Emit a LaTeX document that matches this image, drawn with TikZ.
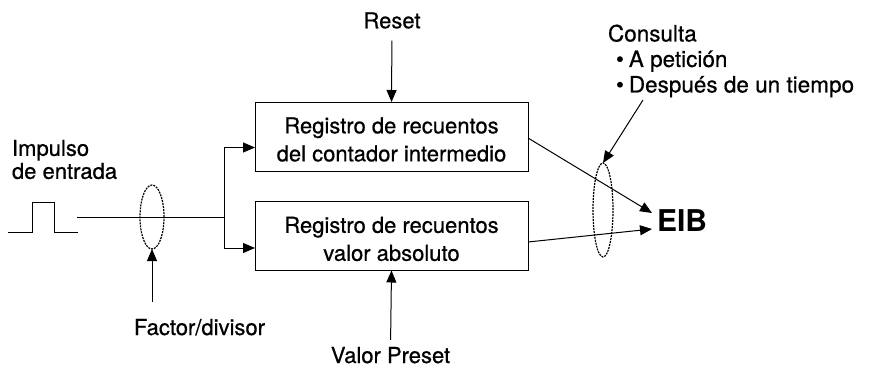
\documentclass[tikz,border=0pt]{standalone}
\usepackage{fontspec}
\setmainfont[FakeBold=0.6]{TeX Gyre Heros}
\newfontfamily\eibfont{TeX Gyre Heros}
\usetikzlibrary{arrows.meta,shapes.geometric}
\begin{document}
\begin{tikzpicture}[x=1pt,y=-1pt,
  every node/.style={font=\fontsize{22}{28}\selectfont, inner sep=0pt, outer sep=0pt},
  regbox/.style={draw, line width=1pt, minimum width=273pt, minimum height=69pt, align=center},
  lbl/.style={align=left},
  ring/.style={draw, ellipse, dash pattern=on 2pt off 1pt, line width=1.2pt},
  arr/.style={-{Triangle[length=12pt,width=10pt]}, line width=1pt},
  ln/.style={line width=1pt}]
\useasboundingbox (0,0) rectangle (885,369);
% boxes
\node[regbox] (r1) at (391.5,136.5) {\rule{0pt}{22pt}Registro de recuentos\\del contador intermedio};
\node[regbox] (r2) at (391.5,236) {\rule{0pt}{22pt}Registro de recuentos\\valor absoluto};
% labels
\node[anchor=base] (reset) at (392,28.3) {Reset};
\node[anchor=base] (vp) at (390.5,363) {Valor Preset};
\node[anchor=base] (fd) at (199.5,335) {Factor/divisor};
\node[lbl, anchor=west, font=\fontsize{22}{23}\selectfont] (imp) at (12,159.5) {Impulso\\de entrada};
\node[lbl, anchor=west, font=\fontsize{22.5}{25.5}\selectfont] (cons) at (608,61) {Consulta\\\hspace*{8pt}•\hspace{5pt}A petición\\\hspace*{8pt}•\hspace{5pt}Después de un tiempo};
\node[anchor=west, font=\eibfont\fontsize{30}{34}\selectfont\bfseries] (eib) at (657,221) {EIB};
% rings
\node[ring, minimum width=24pt, minimum height=64pt] (e1) at (152,217) {};
\node[ring, minimum width=20pt, minimum height=94pt] (e2) at (603,210) {};
% pulse
\draw[ln] (8,232) -- (32,232) -- (32,202) -- (54,202) -- (54,232) -- (78,232);
% input line and branch
\coordinate (in) at (77,217);
\coordinate (br) at (224,217);
\coordinate (cq) at (643,100);
\draw[ln] (in) -- (br);
\draw[arr] (br) |- ([yshift=-11pt]r1.west);
\draw[arr] (br) |- ([yshift=-12pt]r2.west);
% control arrows
\draw[arr, shorten <=12pt] (reset.south) -- (r1.north);
\draw[arr, shorten <=7pt] (vp.north) -- (r2.south);
\draw[arr, shorten <=17pt] (fd.north -| e1.south) -- (e1.south);
\draw[arr] (cq) -- (e2.north);
% outputs
\draw[arr] ([yshift=-1.5pt]r1.east) -- ([xshift=-5pt,yshift=8pt]eib.west);
\draw[arr] ([yshift=-6pt]r2.east) -- ([xshift=-5pt,yshift=-8pt]eib.west);
\end{tikzpicture}
\end{document}
